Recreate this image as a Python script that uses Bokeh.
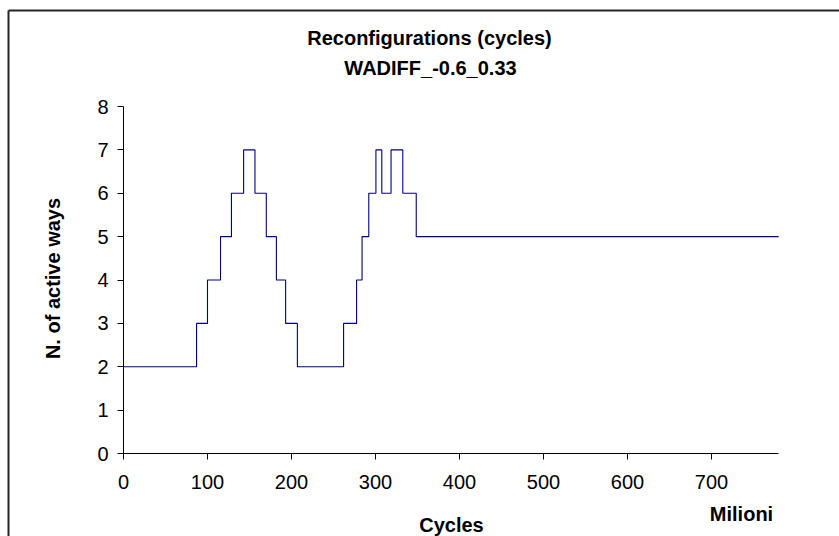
import math
from bokeh.plotting import figure
from bokeh.models import Range1d, FixedTicker, Label, LinearAxis
from bokeh.embed import file_html
from bokeh.resources import INLINE

# ---- data (x in millions of cycles) ----
change_cycles = [0, 87, 100, 115.5, 128.5, 143, 156.5, 170, 182, 193, 207,
                 262, 277.5, 284, 292, 300.5, 307.5, 318.5, 332.5, 348.5, 780]
active_ways = [2, 3, 4, 5, 6, 7, 6, 5, 4, 3, 2,
               3, 4, 5, 6, 7, 6, 7, 6, 5, 5]
x_ticks = [0, 100, 200, 300, 400, 500, 600, 700]
y_ticks = [0, 1, 2, 3, 4, 5, 6, 7, 8]
x_axis_max = 780
y_axis_max = 8
title_lines = ["Reconfigurations (cycles)", "WADIFF_-0.6_0.33"]
x_label = "Cycles"
x_unit_label = "Milioni"
y_label = "N. of active ways"

FONT = "Liberation Sans"
W, H = 839, 536

# pixel geometry of the plotting area (frame covers whole canvas)
X0_PX, X_PER = 123.0, 0.84          # pixel of x=0, pixels per unit
Y0_PX, Y_PER = 453.0, 43.375        # pixel of y=0, pixels per unit


def px_x(px):
    return (px - X0_PX) / X_PER


def px_y(py):
    return (Y0_PX - py) / Y_PER


p = figure(width=W, height=H, output_backend="svg", toolbar_location=None,
           x_axis_type=None, y_axis_type=None,
           x_range=Range1d(px_x(0), px_x(W)), y_range=Range1d(px_y(H), px_y(0)),
           min_border_left=0, min_border_right=0, min_border_top=0, min_border_bottom=0)
p.title.visible = False
p.border_fill_color = "white"
p.background_fill_color = "white"
p.outline_line_color = None

# outer chart border (left & top visible in the reference)
p.segment(x0=[px_x(8), px_x(8)], y0=[px_y(10), px_y(10)],
          x1=[px_x(8), px_x(W + 5)], y1=[px_y(H + 5), px_y(10)],
          line_color="#262626", line_width=2)

p.step(change_cycles, active_ways, mode="after", line_color="#000080", line_width=1.1)

xax = LinearAxis(fixed_location=0, bounds=(0, x_axis_max), ticker=FixedTicker(ticks=x_ticks))
yax = LinearAxis(fixed_location=0, bounds=(0, y_axis_max), ticker=FixedTicker(ticks=y_ticks))
for ax in (xax, yax):
    ax.axis_line_color = "black"
    ax.major_tick_line_color = "black"
    ax.minor_tick_line_color = None
    ax.major_tick_in = 0
    ax.major_tick_out = 6
    ax.major_label_text_font = FONT
    ax.major_label_text_font_size = "20px"
    ax.major_label_text_color = "black"
xax.major_label_standoff = 15
yax.major_label_standoff = 9
p.add_layout(xax, "below")
p.add_layout(yax, "left")

common = dict(text_font=FONT, text_font_size="20px", text_font_style="bold",
              text_color="black", text_align="center", text_baseline="middle")
p.add_layout(Label(x=px_x(429), y=px_y(37), text=title_lines[0], **common))
p.add_layout(Label(x=px_x(430), y=px_y(67), text=title_lines[1], **common))
p.add_layout(Label(x=px_x(451), y=px_y(524), text=x_label, **common))
p.add_layout(Label(x=px_x(741), y=px_y(513), text=x_unit_label, **common))
p.add_layout(Label(x=px_x(52.5), y=px_y(278), text=y_label, angle=math.pi / 2, **common))

open("out.html", "w").write(file_html(p, INLINE))
